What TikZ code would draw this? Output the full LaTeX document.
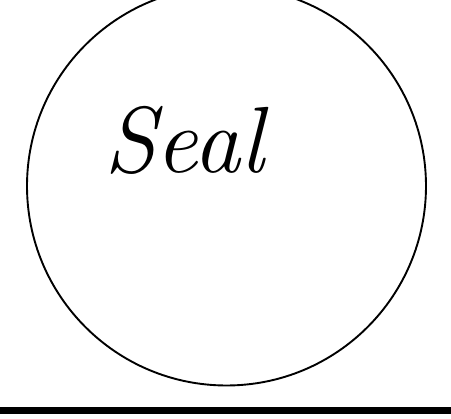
\documentclass[tikz,border=0pt]{standalone}
\usetikzlibrary{positioning}

\begin{document}
\begin{tikzpicture}[
    x=1pt, y=-1pt,
    % 円のデザイン
    sealring/.style={circle, draw, line width=1.9pt, minimum size=399pt, inner sep=0pt},
    % 手書き風の文字
    hand/.style={font=\fontsize{94}{94}\selectfont\itshape, inner sep=0pt},
    % 下の太線
    groundline/.style={line width=7pt}
]

% 1. 画面の範囲
\useasboundingbox (0,0) rectangle (451,419);
\clip (0,0) rectangle (451,419);

% 2. 円と文字
\node [sealring] (seal) at (226.5,186) {};
\node [hand, anchor=base] (word) at (184,173) {Seal};

% 3. 下の線
\coordinate (groundL) at (0,410.5);
\coordinate (groundR) at (451,410.5);
\draw [groundline] (groundL) -- (groundR);

\end{tikzpicture}
\end{document}
